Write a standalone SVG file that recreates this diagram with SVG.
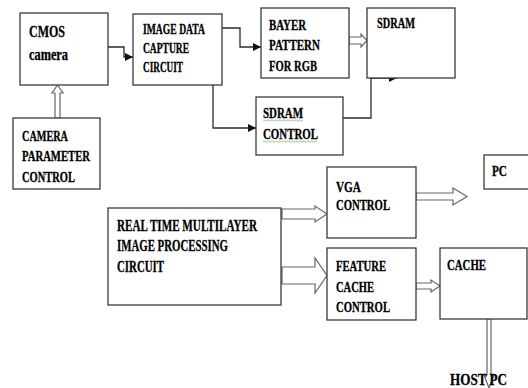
<svg xmlns="http://www.w3.org/2000/svg" width="528" height="388" viewBox="0 0 528 388">
<style>
.box{fill:#fff;stroke:#3a3a3a;stroke-width:1.3}
.t{font-family:"Liberation Serif","Times New Roman",serif;font-weight:bold;font-size:15px;fill:#000;stroke:#000;stroke-width:0.3}
.big{font-size:16px}
.ln{fill:none;stroke:#2a2a2a;stroke-width:1.3}
.ha{fill:#fff;stroke:#666;stroke-width:1.2;stroke-linejoin:miter}
.sq{fill:none;stroke:#7ab870;stroke-width:0.8}
</style>
<defs>
<marker id="ar" viewBox="0 0 8 8" refX="8" refY="4" markerWidth="8" markerHeight="8" markerUnits="userSpaceOnUse" orient="auto">
<path d="M0,0 L8,4 L0,8 Z" fill="#111"/>
</marker>
</defs>
<rect width="528" height="388" fill="#fff"/>

<g id="connectors">
<path class="ln" d="M108,47 H124 V57 H133" marker-end="url(#ar)"/>
<path class="ln" d="M222,28 H240 V47 H261" marker-end="url(#ar)"/>
<path class="ln" d="M213,85 V128 H256" marker-end="url(#ar)"/>
<path class="ln" d="M343,118 H371 V78 H397" marker-end="url(#ar)"/>
<polygon class="ha" points="55,118 55,93 52,93 57.5,85 63,93 60,93 60,118"/>
<polygon class="ha" points="349,37 361,37 361,34 367,40.5 361,47 361,44 349,44"/>
<polygon class="ha" points="416,193 453,193 453,188 467,196.5 453,205 453,200 416,200"/>
<polygon class="ha" points="282,209 315,209 315,206 327,214 315,222 315,219 282,219"/>
<polygon class="ha" points="282,267 315,267 315,258 327,275.5 315,293 315,284 282,284"/>
<polygon class="ha" points="416,283 431,283 431,280 440,286 431,292 431,289 416,289"/>
<polygon class="ha" points="487,319 487,375 484,375 489,388 494,375 491,375 491,319"/>
</g>

<g id="cmos">
<rect class="box" x="20" y="13" width="88" height="72"/>
<text class="t big" x="29" y="37" textLength="36" lengthAdjust="spacingAndGlyphs">CMOS</text>
<text class="t big" x="29" y="60" textLength="39" lengthAdjust="spacingAndGlyphs">camera</text>
</g>

<g id="image-data-capture">
<rect class="box" x="133" y="14" width="89" height="71"/>
<text class="t" x="143" y="34" textLength="62" lengthAdjust="spacingAndGlyphs">IMAGE DATA</text>
<text class="t" x="143" y="53" textLength="46" lengthAdjust="spacingAndGlyphs">CAPTURE</text>
<text class="t" x="143" y="72" textLength="40" lengthAdjust="spacingAndGlyphs">CIRCUIT</text>
</g>

<g id="bayer">
<rect class="box" x="261" y="8" width="88" height="70"/>
<text class="t" x="269" y="30" textLength="37" lengthAdjust="spacingAndGlyphs">BAYER</text>
<text class="t" x="269" y="50" textLength="51" lengthAdjust="spacingAndGlyphs">PATTERN</text>
<text class="t" x="269" y="71" textLength="48" lengthAdjust="spacingAndGlyphs">FOR RGB</text>
</g>

<g id="sdram">
<rect class="box" x="367" y="8" width="88" height="70"/>
<text class="t" x="377" y="28" textLength="38" lengthAdjust="spacingAndGlyphs">SDRAM</text>
</g>

<g id="sdram-control">
<rect class="box" x="256" y="97" width="87" height="58"/>
<text class="t" x="263" y="118" textLength="40" lengthAdjust="spacingAndGlyphs">SDRAM</text>
<text class="t" x="263" y="139" textLength="55" lengthAdjust="spacingAndGlyphs">CONTROL</text>
<path class="sq" d="M263,120.5 q1,-1.5 2,0 t2,0 t2,0 t2,0 t2,0 t2,0 t2,0 t2,0 t2,0 t2,0 t2,0 t2,0 t2,0 t2,0 t2,0 t2,0 t2,0 t2,0 t2,0 t2,0"/>
<path class="sq" d="M263,141.5 q1,-1.5 2,0 t2,0 t2,0 t2,0 t2,0 t2,0 t2,0 t2,0 t2,0 t2,0 t2,0 t2,0 t2,0 t2,0 t2,0 t2,0 t2,0 t2,0 t2,0 t2,0 t2,0 t2,0 t2,0 t2,0 t2,0 t2,0 t2,0"/>
</g>

<g id="camera-parameter-control">
<rect class="box" x="13" y="118" width="87" height="71"/>
<text class="t" x="22" y="141" textLength="46" lengthAdjust="spacingAndGlyphs">CAMERA</text>
<text class="t" x="22" y="161" textLength="68" lengthAdjust="spacingAndGlyphs">PARAMETER</text>
<text class="t" x="22" y="182" textLength="53" lengthAdjust="spacingAndGlyphs">CONTROL</text>
</g>

<g id="pc">
<rect class="box" x="484" y="155" width="50" height="34"/>
<text class="t" x="492" y="176" textLength="15" lengthAdjust="spacingAndGlyphs">PC</text>
</g>

<g id="vga-control">
<rect class="box" x="327" y="167" width="89" height="71"/>
<text class="t" x="336" y="192" textLength="25" lengthAdjust="spacingAndGlyphs">VGA</text>
<text class="t" x="336" y="210" textLength="54" lengthAdjust="spacingAndGlyphs">CONTROL</text>
</g>

<g id="real-time-processing">
<rect class="box" x="108" y="208" width="173" height="97"/>
<text class="t big" x="117" y="231" textLength="140" lengthAdjust="spacingAndGlyphs">REAL TIME MULTILAYER</text>
<text class="t big" x="117" y="251" textLength="111" lengthAdjust="spacingAndGlyphs">IMAGE PROCESSING</text>
<text class="t big" x="117" y="272" textLength="47" lengthAdjust="spacingAndGlyphs">CIRCUIT</text>
</g>

<g id="feature-cache-control">
<rect class="box" x="327" y="248" width="89" height="72"/>
<text class="t" x="336" y="271" textLength="50" lengthAdjust="spacingAndGlyphs">FEATURE</text>
<text class="t" x="336" y="292" textLength="38" lengthAdjust="spacingAndGlyphs">CACHE</text>
<text class="t" x="336" y="312" textLength="54" lengthAdjust="spacingAndGlyphs">CONTROL</text>
</g>

<g id="cache">
<rect class="box" x="440" y="248" width="87" height="71"/>
<text class="t" x="447" y="270" textLength="39" lengthAdjust="spacingAndGlyphs">CACHE</text>
</g>

<g id="host-pc">
<text class="t" x="450" y="385" textLength="57" lengthAdjust="spacingAndGlyphs" style="font-size:17px">HOST PC</text>
</g>
</svg>
